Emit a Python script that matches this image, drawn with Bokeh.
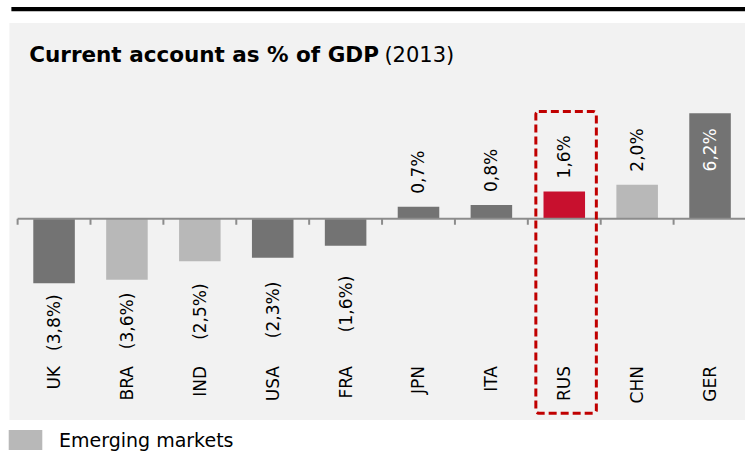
import math
from bokeh.plotting import figure
from bokeh.models import (ColumnDataSource, Range1d, BoxAnnotation, Label,
                          Legend, LegendItem)
from bokeh.transform import factor_cmap
from bokeh.embed import file_html
from bokeh.resources import INLINE
from bokeh.core.properties import value

# ---------------- data ----------------
categories = ["UK", "BRA", "IND", "USA", "FRA", "JPN", "ITA", "RUS", "CHN", "GER"]
values = [-3.8, -3.6, -2.5, -2.3, -1.6, 0.7, 0.8, 1.6, 2.0, 6.2]
groups = ["Developed", "Emerging", "Emerging", "Developed", "Developed",
          "Developed", "Developed", "Highlight", "Emerging", "Developed"]
value_labels = ["(3,8%)", "(3,6%)", "(2,5%)", "(2,3%)", "(1,6%)",
                "0,7%", "0,8%", "1,6%", "2,0%", "6,2%"]
highlight = "RUS"
title_main = "Current account as % of GDP"
title_year = "(2013)"
legend_label = "Emerging markets"

# ---------------- layout (reference pixel geometry, scaled to canvas) ----------------
W, H = 745, 451
SX, SY = W / 753, H / 459
CAT_W = 73.67 * SX          # px per category
LEFT_PX = 17.3 * SX         # x of first category boundary
ZERO_PX = 222 * SY          # y of zero line
PX_PER_UNIT = 17.3 * SY     # px per percentage point

x_start = -0.5 - LEFT_PX / CAT_W
x_end = x_start + W / CAT_W
y_end = ZERO_PX / PX_PER_UNIT
y_start = y_end - H / PX_PER_UNIT


def X(rx):
    return x_start + rx * SX / CAT_W


def Y(ry):
    return y_end - ry * SY / PX_PER_UNIT


DARK = "#737373"
LIGHT = "#b8b8b8"
RED = "#c8102e"
FONT = "DejaVu Sans"

p = figure(width=W, height=H, x_range=Range1d(x_start, x_end),
           y_range=Range1d(y_start, y_end), output_backend="svg",
           toolbar_location=None, min_border=0, title=None,
           x_axis_type=None, y_axis_type=None,
           background_fill_color="white", border_fill_color="white",
           outline_line_color=None)
p.grid.visible = False

# panel background and top rule
p.add_layout(BoxAnnotation(left=X(9), right=X(770), top=Y(23), bottom=Y(427),
                           fill_color="#f2f2f2", fill_alpha=1, line_color=None,
                           level="underlay"))
p.add_layout(BoxAnnotation(left=X(11), right=X(770), top=Y(6.5), bottom=Y(11),
                           fill_color="black", fill_alpha=1, line_color=None,
                           level="underlay"))

idx = list(range(len(categories)))
src = ColumnDataSource(dict(x=idx, value=values, group=groups, cat=categories,
                            label=value_labels))

bars = p.vbar(x="x", top="value", width=0.57, source=src, line_color=None,
              fill_color=factor_cmap("group", palette=[DARK, LIGHT, RED],
                                     factors=["Developed", "Emerging", "Highlight"]))

# zero axis line and ticks at category boundaries
p.segment(x0=[-0.5], x1=[x_end], y0=[0], y1=[0], line_color="#8c8c8c", line_width=2)
bounds = [i - 0.5 for i in range(len(categories) + 1)]
p.segment(x0=bounds, x1=bounds, y0=[0] * len(bounds),
          y1=[-6 / PX_PER_UNIT] * len(bounds), line_color="#8c8c8c", line_width=2)

# category labels (rotated, ends aligned)
cat_end = Y(372)
p.text(x=idx, y=[cat_end] * len(idx), text=categories, angle=math.pi / 2,
       text_align="right", text_baseline="middle", text_font=value(FONT),
       text_font_size="17px", text_color="black")

# value labels
pos_out = dict(x=[], y=[], t=[])
pos_in = dict(x=[], y=[], t=[])
neg = dict(x=[], y=[], t=[])
for i, (v, t) in enumerate(zip(values, value_labels)):
    if v < 0:
        neg["x"].append(i)
        neg["y"].append((v + Y(368)) / 2)
        neg["t"].append(t)
    elif v * PX_PER_UNIT > 60:
        pos_in["x"].append(i)
        pos_in["y"].append(v)
        pos_in["t"].append(t)
    else:
        pos_out["x"].append(i)
        pos_out["y"].append(v)
        pos_out["t"].append(t)

common = dict(angle=math.pi / 2, text_baseline="middle", text_font=value(FONT),
              text_font_size="17px")
p.text(x=pos_out["x"], y=pos_out["y"], text=pos_out["t"], text_align="left",
       y_offset=-13, text_color="black", **common)
p.text(x=pos_in["x"], y=pos_in["y"], text=pos_in["t"], text_align="right",
       y_offset=15, text_color="white", **common)
p.text(x=neg["x"], y=neg["y"], text=neg["t"], text_align="center",
       text_color="black", **common)

# highlight box around RUS
hi = categories.index(highlight)
p.add_layout(BoxAnnotation(left=hi - 0.39, right=hi + 0.44, top=Y(113), bottom=Y(420),
                           fill_alpha=0, line_color="#c00000", line_alpha=1,
                           line_width=3, line_dash="8 4", border_radius=3))

# title
p.add_layout(Label(x=X(29), y=Y(55), text=title_main, text_font=FONT,
                   text_font_style="bold", text_font_size="21.5px",
                   text_baseline="alphabetic", text_color="black"))
p.add_layout(Label(x=X(388), y=Y(55), text=title_year, text_font=FONT,
                   text_font_size="21px", text_baseline="alphabetic",
                   text_color="black"))

# legend
legend = Legend(items=[LegendItem(label=legend_label, renderers=[bars], index=1)],
                location=(4, -1), padding=0, margin=0, spacing=0,
                glyph_width=42, glyph_height=25, label_standoff=13,
                label_height=25, label_text_font=FONT, label_text_font_size="19px",
                label_text_color="black", background_fill_alpha=0,
                border_line_color=None)
p.add_layout(legend)

open("out.html", "w").write(file_html(p, INLINE))
